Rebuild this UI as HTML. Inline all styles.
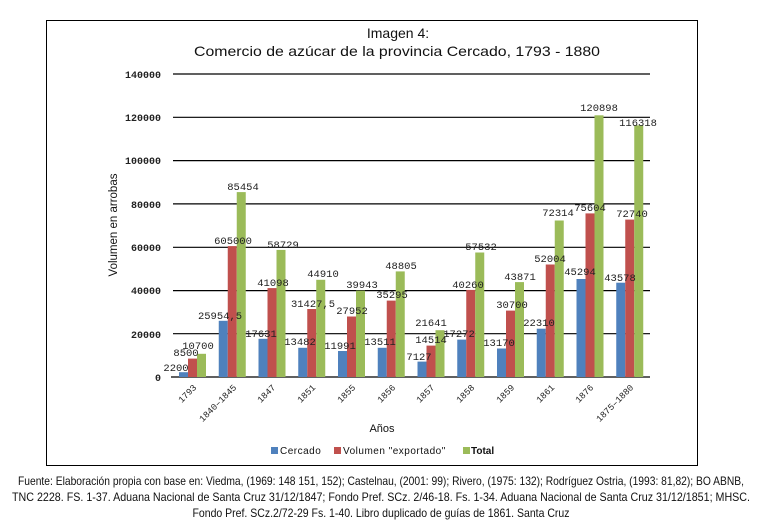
<!DOCTYPE html>
<html><head><meta charset="utf-8"><style>
body{margin:0;background:#fff;width:762px;height:526px;overflow:hidden}
svg{display:block}
.m{font-family:"Liberation Mono",monospace;font-size:10.5px;fill:#222}
.t{font-family:"Liberation Mono",monospace;font-size:10px;font-weight:bold;fill:#222}
.x{font-family:"Liberation Mono",monospace;font-size:9px;fill:#222}
.s{font-family:"Liberation Sans",sans-serif}
</style></head><body>
<svg width="762" height="526" xmlns="http://www.w3.org/2000/svg">
<rect x="46.5" y="20.5" width="651" height="445" fill="none" stroke="#000" stroke-width="1"/>
<text class="s" x="398" y="38" font-size="14" text-anchor="middle" fill="#111">Imagen 4:</text>
<text class="s" x="397" y="56" font-size="14" text-anchor="middle" fill="#111" textLength="406" lengthAdjust="spacingAndGlyphs">Comercio de azúcar de la provincia Cercado, 1793 - 1880</text>
<g stroke="#000" stroke-width="1.2">
<line x1="173" x2="650" y1="74" y2="74"/><line x1="173" x2="650" y1="117.3" y2="117.3"/>
<line x1="173" x2="650" y1="160.6" y2="160.6"/><line x1="173" x2="650" y1="203.9" y2="203.9"/>
<line x1="173" x2="650" y1="247.3" y2="247.3"/><line x1="173" x2="650" y1="290.6" y2="290.6"/>
<line x1="173" x2="650" y1="333.7" y2="333.7"/><line x1="171" x2="650" y1="377" y2="377"/>
</g>
<g class="t" text-anchor="end">
<text x="161" y="78">140000</text><text x="161" y="121">120000</text><text x="161" y="164">100000</text>
<text x="161" y="208">80000</text><text x="161" y="251">60000</text><text x="161" y="294">40000</text>
<text x="161" y="338">20000</text><text x="161" y="381">0</text>
</g>
<text class="s" font-size="11.5" fill="#111" text-anchor="middle" transform="translate(117,225) rotate(-90)">Volumen en arrobas</text>
<g>
<g fill="#4f81bd">
<rect x="179" y="372.2" width="9" height="4.8"/><rect x="218.75" y="320.8" width="9" height="56.2"/>
<rect x="258.5" y="338.8" width="9" height="38.2"/><rect x="298.25" y="347.8" width="9" height="29.2"/>
<rect x="338" y="351" width="9" height="26"/><rect x="377.75" y="347.8" width="9" height="29.2"/>
<rect x="417.5" y="361.6" width="9" height="15.4"/><rect x="457.25" y="339.6" width="9" height="37.4"/>
<rect x="497" y="348.5" width="9" height="28.5"/><rect x="536.75" y="328.7" width="9" height="48.3"/>
<rect x="576.5" y="279" width="9" height="98"/><rect x="616.25" y="282.7" width="9" height="94.3"/>
</g>
<g fill="#c0504d">
<rect x="188" y="358.6" width="9" height="18.4"/><rect x="227.75" y="246.1" width="9" height="130.9"/>
<rect x="267.5" y="288.1" width="9" height="88.9"/><rect x="307.25" y="309" width="9" height="68"/>
<rect x="347" y="316.5" width="9" height="60.5"/><rect x="386.75" y="300.6" width="9" height="76.4"/>
<rect x="426.5" y="345.6" width="9" height="31.4"/><rect x="466.25" y="289.9" width="9" height="87.1"/>
<rect x="506" y="310.6" width="9" height="66.4"/><rect x="545.75" y="264.5" width="9" height="112.5"/>
<rect x="585.5" y="213.4" width="9" height="163.6"/><rect x="625.25" y="219.6" width="9" height="157.4"/>
</g>
<g fill="#9bbb59">
<rect x="197" y="353.8" width="9" height="23.2"/><rect x="236.75" y="192.1" width="9" height="184.9"/>
<rect x="276.5" y="249.9" width="9" height="127.1"/><rect x="316.25" y="279.8" width="9" height="97.2"/>
<rect x="356" y="290.6" width="9" height="86.4"/><rect x="395.75" y="271.4" width="9" height="105.6"/>
<rect x="435.5" y="330.2" width="9" height="46.8"/><rect x="475.25" y="252.5" width="9" height="124.5"/>
<rect x="515" y="282.1" width="9" height="94.9"/><rect x="554.75" y="220.5" width="9" height="156.5"/>
<rect x="594.5" y="115.3" width="9" height="261.7"/><rect x="634.25" y="125.3" width="9" height="251.7"/>
</g>
</g>
<g class="m" text-anchor="middle">
<text x="176" y="371">2200</text><text x="186" y="356">8500</text><text x="198" y="349">10700</text>
<text x="220" y="319">25954,5</text><text x="233" y="244">605000</text><text x="243" y="190">85454</text>
<text x="261" y="337">17631</text><text x="273" y="286">41098</text><text x="283" y="248">58729</text>
<text x="300" y="345">13482</text><text x="313" y="307">31427,5</text><text x="323" y="277">44910</text>
<text x="340" y="349">11991</text><text x="352" y="314">27952</text><text x="362" y="288">39943</text>
<text x="380" y="345">13511</text><text x="392" y="298">35295</text><text x="401" y="269">48805</text>
<text x="419" y="360">7127</text><text x="431" y="343">14514</text><text x="431" y="326">21641</text>
<text x="459" y="337">17272</text><text x="468" y="288">40260</text><text x="481" y="250">57532</text>
<text x="499" y="346">13170</text><text x="512" y="308">30700</text><text x="520" y="280">43871</text>
<text x="539" y="326">22310</text><text x="550" y="262">52004</text><text x="558" y="216">72314</text>
<text x="580" y="275">45294</text><text x="590" y="211">75604</text><text x="599" y="111">120898</text>
<text x="620" y="281">43578</text><text x="632" y="217">72740</text><text x="638" y="126">116318</text>
</g>
<g class="x" text-anchor="end">
<text transform="translate(197,388) rotate(-45)">1793</text>
<text transform="translate(237,388) rotate(-45)">1840–1845</text>
<text transform="translate(276,388) rotate(-45)">1847</text>
<text transform="translate(316,388) rotate(-45)">1851</text>
<text transform="translate(356,388) rotate(-45)">1855</text>
<text transform="translate(396,388) rotate(-45)">1856</text>
<text transform="translate(435,388) rotate(-45)">1857</text>
<text transform="translate(475,388) rotate(-45)">1858</text>
<text transform="translate(515,388) rotate(-45)">1859</text>
<text transform="translate(555,388) rotate(-45)">1861</text>
<text transform="translate(594,388) rotate(-45)">1876</text>
<text transform="translate(634,388) rotate(-45)">1875–1880</text>
</g>
<text class="s" x="382" y="432" font-size="11" text-anchor="middle" fill="#111">Años</text>
<rect x="271" y="447" width="7" height="7" fill="#4f81bd"/>
<text class="s" x="280" y="454" font-size="10" fill="#111" letter-spacing="0.5">Cercado</text>
<rect x="334" y="447" width="7" height="7" fill="#c0504d"/>
<text class="s" x="343" y="454" font-size="10" fill="#111" letter-spacing="0.5">Volumen "exportado"</text>
<rect x="463" y="447" width="7" height="7" fill="#9bbb59"/>
<text class="s" x="471" y="454" font-size="10" fill="#111" font-weight="bold">Total</text>
<g class="s" font-size="12" fill="#111" text-anchor="middle">
<text x="381" y="485" textLength="726" lengthAdjust="spacingAndGlyphs">Fuente: Elaboración propia con base en: Viedma, (1969: 148 151, 152); Castelnau, (2001: 99); Rivero, (1975: 132); Rodríguez Ostria, (1993: 81,82); BO ABNB,</text>
<text x="381" y="501" textLength="738" lengthAdjust="spacingAndGlyphs">TNC 2228. FS. 1-37. Aduana Nacional de Santa Cruz 31/12/1847; Fondo Pref. SCz. 2/46-18. Fs. 1-34. Aduana Nacional de Santa Cruz 31/12/1851; MHSC.</text>
<text x="381" y="517" textLength="377" lengthAdjust="spacingAndGlyphs">Fondo Pref. SCz.2/72-29 Fs. 1-40. Libro duplicado de guías de 1861. Santa Cruz</text>
</g>
</svg>
</body></html>
